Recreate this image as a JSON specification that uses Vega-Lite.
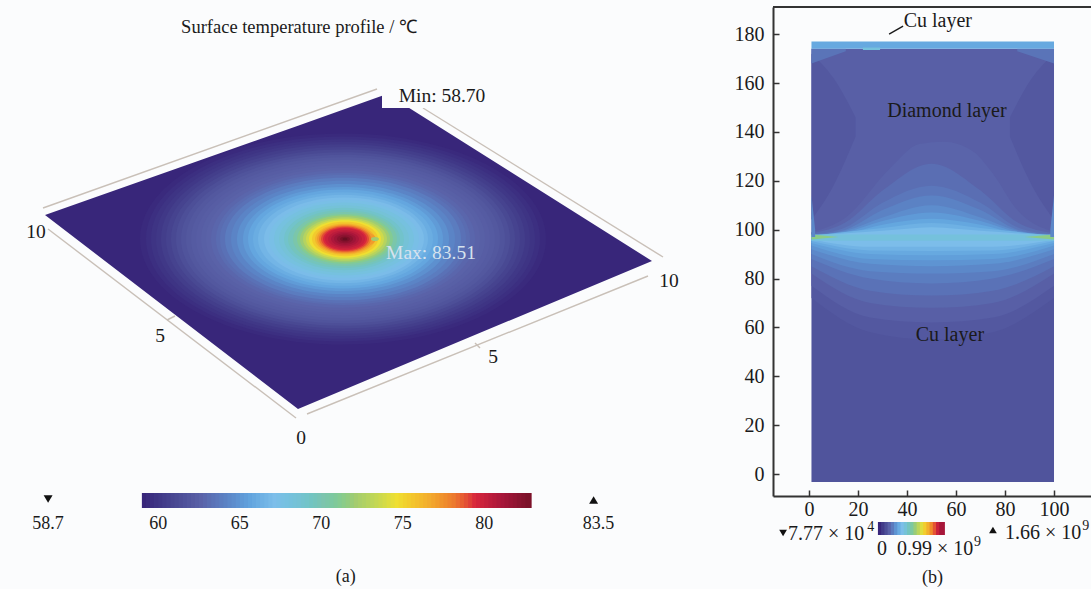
{"$schema":"https://vega.github.io/schema/vega-lite/v6.json","background":"#fbfcfd","padding":{"left":0,"top":6,"right":0,"bottom":0},"autosize":{"type":"pad"},"columns":2,"spacing":0,"bounds":"flush","resolve":{"scale":{"color":"independent","size":"independent","shape":"independent"}},"config":{"view":{"stroke":null},"text":{"font":"Liberation Serif"},"axis":{"labelFont":"Liberation Serif"}},
"datasets":{
"plane":[{"t":59,"x":45,"y":214,"y2":214},{"t":59,"x":298,"y":124.7,"y2":408},{"t":59,"x":387,"y":93,"y2":370.8},{"t":59,"x":652,"y":260,"y2":260}],
"rings":[{"t":59.2,"r":203,"x":343,"y":238},{"t":59.5,"r":197,"x":343,"y":238},{"t":59.75,"r":192,"x":343,"y":238},{"t":60,"r":187,"x":343,"y":238},{"t":60.3,"r":182,"x":343,"y":238},{"t":60.6,"r":177,"x":343,"y":238},{"t":60.95,"r":172,"x":343,"y":238},{"t":61.3,"r":167,"x":343,"y":238},{"t":61.6,"r":162,"x":343,"y":238},{"t":61.85,"r":157,"x":343,"y":238},{"t":62.05,"r":152,"x":343,"y":238},{"t":62.2,"r":147,"x":343,"y":238},{"t":62.35,"r":142,"x":343,"y":238},{"t":62.5,"r":137,"x":343,"y":238},{"t":62.7,"r":132,"x":343,"y":238},{"t":62.95,"r":127,"x":343,"y":238},{"t":63.2,"r":123,"x":343,"y":238},{"t":63.7,"r":118,"x":343,"y":238},{"t":64.1,"r":112,"x":343,"y":238},{"t":64.6,"r":106,"x":343,"y":238},{"t":65.1,"r":100,"x":343,"y":238},{"t":65.6,"r":95,"x":343,"y":238},{"t":66,"r":90,"x":343,"y":238},{"t":66.5,"r":85,"x":343,"y":238},{"t":66.9,"r":80,"x":344,"y":238},{"t":67.3,"r":75,"x":344,"y":238},{"t":67.8,"r":70,"x":344,"y":238},{"t":68.3,"r":65,"x":344,"y":238},{"t":68.9,"r":60,"x":344,"y":238},{"t":69.5,"r":56,"x":344,"y":238},{"t":70.2,"r":52,"x":345,"y":238},{"t":71,"r":48,"x":345,"y":238},{"t":71.8,"r":45,"x":345,"y":238},{"t":72.7,"r":42,"x":345,"y":238},{"t":73.6,"r":39,"x":345,"y":238},{"t":74.5,"r":36,"x":345,"y":238},{"t":75.3,"r":33,"x":345,"y":238},{"t":76.2,"r":30,"x":345,"y":238},{"t":77,"r":14,"x":362,"y":238},{"t":77,"r":28,"x":345,"y":238},{"t":78,"r":26,"x":345,"y":238},{"t":78.8,"r":24,"x":345,"y":238},{"t":79.3,"r":22,"x":345,"y":238},{"t":79.8,"r":20,"x":345,"y":238},{"t":80.3,"r":17,"x":345,"y":238},{"t":80.8,"r":14,"x":345,"y":238},{"t":81.3,"r":11,"x":345,"y":238},{"t":81.9,"r":8,"x":345,"y":238},{"t":82.6,"r":5,"x":345,"y":238},{"t":83.3,"r":2.5,"x":345,"y":238},{"t":72,"r":4,"x":375,"y":238}],
"rulers":[{"e":"a","x":43,"y":207},{"e":"a","x":377,"y":88},{"e":"b","x":423,"y":107},{"e":"b","x":663,"y":256},{"e":"c","x":48,"y":228},{"e":"c","x":296,"y":417},{"e":"d","x":307,"y":413},{"e":"d","x":648,"y":275},{"e":"e","x":167,"y":319},{"e":"e","x":175,"y":315},{"e":"f","x":475,"y":342},{"e":"f","x":480,"y":347}],
"box":[{"x":382,"x2":495,"y":84,"y2":107}],
"titleText":[{"s":"Surface temperature profile / ℃","x":299,"y":26}],
"sceneText":[{"s":"Min: 58.70","x":442,"y":95,"c":"ink"},{"s":"Max: 83.51","x":431,"y":252,"c":"pale"},{"s":"10","x":36,"y":231,"c":"ink"},{"s":"5","x":160,"y":335,"c":"ink"},{"s":"0","x":301,"y":437,"c":"ink"},{"s":"5","x":493,"y":356,"c":"ink"},{"s":"10","x":669,"y":280,"c":"ink"}],
"barA":[{"t":59,"t2":59.3},{"t":59.25,"t2":59.55},{"t":59.5,"t2":59.8},{"t":59.75,"t2":60.05},{"t":60,"t2":60.3},{"t":60.25,"t2":60.55},{"t":60.5,"t2":60.8},{"t":60.75,"t2":61.05},{"t":61,"t2":61.3},{"t":61.25,"t2":61.55},{"t":61.5,"t2":61.8},{"t":61.75,"t2":62.05},{"t":62,"t2":62.3},{"t":62.25,"t2":62.55},{"t":62.5,"t2":62.8},{"t":62.75,"t2":63.05},{"t":63,"t2":63.3},{"t":63.25,"t2":63.55},{"t":63.5,"t2":63.8},{"t":63.75,"t2":64.05},{"t":64,"t2":64.3},{"t":64.25,"t2":64.55},{"t":64.5,"t2":64.8},{"t":64.75,"t2":65.05},{"t":65,"t2":65.3},{"t":65.25,"t2":65.55},{"t":65.5,"t2":65.8},{"t":65.75,"t2":66.05},{"t":66,"t2":66.3},{"t":66.25,"t2":66.55},{"t":66.5,"t2":66.8},{"t":66.75,"t2":67.05},{"t":67,"t2":67.3},{"t":67.25,"t2":67.55},{"t":67.5,"t2":67.8},{"t":67.75,"t2":68.05},{"t":68,"t2":68.3},{"t":68.25,"t2":68.55},{"t":68.5,"t2":68.8},{"t":68.75,"t2":69.05},{"t":69,"t2":69.3},{"t":69.25,"t2":69.55},{"t":69.5,"t2":69.8},{"t":69.75,"t2":70.05},{"t":70,"t2":70.3},{"t":70.25,"t2":70.55},{"t":70.5,"t2":70.8},{"t":70.75,"t2":71.05},{"t":71,"t2":71.3},{"t":71.25,"t2":71.55},{"t":71.5,"t2":71.8},{"t":71.75,"t2":72.05},{"t":72,"t2":72.3},{"t":72.25,"t2":72.55},{"t":72.5,"t2":72.8},{"t":72.75,"t2":73.05},{"t":73,"t2":73.3},{"t":73.25,"t2":73.55},{"t":73.5,"t2":73.8},{"t":73.75,"t2":74.05},{"t":74,"t2":74.3},{"t":74.25,"t2":74.55},{"t":74.5,"t2":74.8},{"t":74.75,"t2":75.05},{"t":75,"t2":75.3},{"t":75.25,"t2":75.55},{"t":75.5,"t2":75.8},{"t":75.75,"t2":76.05},{"t":76,"t2":76.3},{"t":76.25,"t2":76.55},{"t":76.5,"t2":76.8},{"t":76.75,"t2":77.05},{"t":77,"t2":77.3},{"t":77.25,"t2":77.55},{"t":77.5,"t2":77.8},{"t":77.75,"t2":78.05},{"t":78,"t2":78.3},{"t":78.25,"t2":78.55},{"t":78.5,"t2":78.8},{"t":78.75,"t2":79.05},{"t":79,"t2":79.3},{"t":79.25,"t2":79.55},{"t":79.5,"t2":79.8},{"t":79.75,"t2":80.05},{"t":80,"t2":80.3},{"t":80.25,"t2":80.55},{"t":80.5,"t2":80.8},{"t":80.75,"t2":81.05},{"t":81,"t2":81.3},{"t":81.25,"t2":81.55},{"t":81.5,"t2":81.8},{"t":81.75,"t2":82.05},{"t":82,"t2":82.3},{"t":82.25,"t2":82.55},{"t":82.5,"t2":82.9}],
"textA":[{"s":"58.7","x":53.25,"y":523},{"s":"60","x":60,"y":523},{"s":"65","x":65,"y":523},{"s":"70","x":70,"y":523},{"s":"75","x":75,"y":523},{"s":"80","x":80,"y":523},{"s":"83.5","x":87,"y":523},{"s":"(a)","x":71.5,"y":576}],
"triA":[{"x":53.25,"y":498,"k":"min"},{"x":86.7,"y":499,"k":"max"}],
"field":[
{"id":"a00","v":0.18,"x":1,"y":-3.3,"y2":96},{"id":"a00","v":0.18,"x":100,"y":-3.3,"y2":96},
{"id":"a01","v":0.2,"x":1,"y":97,"y2":72},{"id":"a01","v":0.2,"x":25,"y":97,"y2":58},{"id":"a01","v":0.2,"x":50,"y":97,"y2":55},{"id":"a01","v":0.2,"x":75,"y":97,"y2":58},{"id":"a01","v":0.2,"x":100,"y":97,"y2":72},
{"id":"a015","v":0.23,"x":1,"y":97,"y2":77},{"id":"a015","v":0.23,"x":25,"y":97,"y2":64},{"id":"a015","v":0.23,"x":50,"y":97,"y2":62},{"id":"a015","v":0.23,"x":75,"y":97,"y2":64},{"id":"a015","v":0.23,"x":100,"y":97,"y2":77},
{"id":"a02","v":0.26,"x":1,"y":97,"y2":82},{"id":"a02","v":0.26,"x":25,"y":97,"y2":70},{"id":"a02","v":0.26,"x":50,"y":97,"y2":68},{"id":"a02","v":0.26,"x":75,"y":97,"y2":70},{"id":"a02","v":0.26,"x":100,"y":97,"y2":82},
{"id":"a025","v":0.295,"x":1,"y":97,"y2":85},{"id":"a025","v":0.295,"x":25,"y":97,"y2":75},{"id":"a025","v":0.295,"x":50,"y":97,"y2":73},{"id":"a025","v":0.295,"x":75,"y":97,"y2":75},{"id":"a025","v":0.295,"x":100,"y":97,"y2":85},
{"id":"a03","v":0.33,"x":1,"y":97,"y2":88},{"id":"a03","v":0.33,"x":25,"y":97,"y2":80},{"id":"a03","v":0.33,"x":50,"y":97,"y2":78},{"id":"a03","v":0.33,"x":75,"y":97,"y2":80},{"id":"a03","v":0.33,"x":100,"y":97,"y2":88},
{"id":"a035","v":0.365,"x":1,"y":97,"y2":90},{"id":"a035","v":0.365,"x":25,"y":97,"y2":83},{"id":"a035","v":0.365,"x":50,"y":97,"y2":82},{"id":"a035","v":0.365,"x":75,"y":97,"y2":83},{"id":"a035","v":0.365,"x":100,"y":97,"y2":90},
{"id":"a04","v":0.4,"x":1,"y":97,"y2":92},{"id":"a04","v":0.4,"x":25,"y":97,"y2":86},{"id":"a04","v":0.4,"x":50,"y":97,"y2":85},{"id":"a04","v":0.4,"x":75,"y":97,"y2":86},{"id":"a04","v":0.4,"x":100,"y":97,"y2":92},
{"id":"a045","v":0.435,"x":1,"y":97,"y2":93.5},{"id":"a045","v":0.435,"x":25,"y":97,"y2":88},{"id":"a045","v":0.435,"x":50,"y":97,"y2":87.5},{"id":"a045","v":0.435,"x":75,"y":97,"y2":88},{"id":"a045","v":0.435,"x":100,"y":97,"y2":93.5},
{"id":"a05","v":0.47,"x":1,"y":97,"y2":94.5},{"id":"a05","v":0.47,"x":25,"y":97,"y2":90},{"id":"a05","v":0.47,"x":50,"y":97,"y2":89.5},{"id":"a05","v":0.47,"x":75,"y":97,"y2":90},{"id":"a05","v":0.47,"x":100,"y":97,"y2":94.5},
{"id":"a055","v":0.51,"x":1,"y":97,"y2":95.3},{"id":"a055","v":0.51,"x":25,"y":97,"y2":91.5},{"id":"a055","v":0.51,"x":50,"y":97,"y2":91.3},{"id":"a055","v":0.51,"x":75,"y":97,"y2":91.5},{"id":"a055","v":0.51,"x":100,"y":97,"y2":95.3},
{"id":"a06","v":0.55,"x":1,"y":97,"y2":96},{"id":"a06","v":0.55,"x":25,"y":97,"y2":93},{"id":"a06","v":0.55,"x":50,"y":97,"y2":93},{"id":"a06","v":0.55,"x":75,"y":97,"y2":93},{"id":"a06","v":0.55,"x":100,"y":97,"y2":96},
{"id":"b00","v":0.23,"x":1,"y":96,"y2":174},{"id":"b00","v":0.23,"x":100,"y":96,"y2":174},
{"id":"b01","v":0.2,"x":1,"y":104,"y2":172},{"id":"b01","v":0.2,"x":10,"y":118,"y2":162},{"id":"b01","v":0.2,"x":19,"y":138,"y2":146},
{"id":"b02","v":0.2,"x":100,"y":104,"y2":172},{"id":"b02","v":0.2,"x":91,"y":118,"y2":162},{"id":"b02","v":0.2,"x":82,"y":138,"y2":146},
{"id":"b03","v":0.3,"x":1,"y":168,"y2":174},{"id":"b03","v":0.3,"x":15,"y":173,"y2":174},
{"id":"b04","v":0.3,"x":100,"y":168,"y2":174},{"id":"b04","v":0.3,"x":85,"y":173,"y2":174},
{"id":"c01","v":0.25,"x":1,"y":97,"y2":99},{"id":"c01","v":0.25,"x":15,"y":97,"y2":105},{"id":"c01","v":0.25,"x":33,"y":97,"y2":125},{"id":"c01","v":0.25,"x":45,"y":97,"y2":135},{"id":"c01","v":0.25,"x":55,"y":97,"y2":136},{"id":"c01","v":0.25,"x":67,"y":97,"y2":132},{"id":"c01","v":0.25,"x":75,"y":97,"y2":123},{"id":"c01","v":0.25,"x":85,"y":97,"y2":108},{"id":"c01","v":0.25,"x":100,"y":97,"y2":99},
{"id":"c015","v":0.28,"x":1,"y":97,"y2":98.5},{"id":"c015","v":0.28,"x":15,"y":97,"y2":103},{"id":"c015","v":0.28,"x":30,"y":97,"y2":116},{"id":"c015","v":0.28,"x":50,"y":97,"y2":127},{"id":"c015","v":0.28,"x":70,"y":97,"y2":116},{"id":"c015","v":0.28,"x":85,"y":97,"y2":103},{"id":"c015","v":0.28,"x":100,"y":97,"y2":98.5},
{"id":"c02","v":0.31,"x":1,"y":97,"y2":98},{"id":"c02","v":0.31,"x":15,"y":97,"y2":101},{"id":"c02","v":0.31,"x":30,"y":97,"y2":111},{"id":"c02","v":0.31,"x":50,"y":97,"y2":118},{"id":"c02","v":0.31,"x":70,"y":97,"y2":111},{"id":"c02","v":0.31,"x":85,"y":97,"y2":101},{"id":"c02","v":0.31,"x":100,"y":97,"y2":98},
{"id":"c025","v":0.345,"x":1,"y":97,"y2":97.7},{"id":"c025","v":0.345,"x":15,"y":97,"y2":100},{"id":"c025","v":0.345,"x":30,"y":97,"y2":108},{"id":"c025","v":0.345,"x":50,"y":97,"y2":114},{"id":"c025","v":0.345,"x":70,"y":97,"y2":108},{"id":"c025","v":0.345,"x":85,"y":97,"y2":100},{"id":"c025","v":0.345,"x":100,"y":97,"y2":97.7},
{"id":"c03","v":0.38,"x":1,"y":97,"y2":97.5},{"id":"c03","v":0.38,"x":15,"y":97,"y2":99.5},{"id":"c03","v":0.38,"x":30,"y":97,"y2":105},{"id":"c03","v":0.38,"x":50,"y":97,"y2":110},{"id":"c03","v":0.38,"x":70,"y":97,"y2":105},{"id":"c03","v":0.38,"x":85,"y":97,"y2":99.5},{"id":"c03","v":0.38,"x":100,"y":97,"y2":97.5},
{"id":"c035","v":0.42,"x":1,"y":97,"y2":97.5},{"id":"c035","v":0.42,"x":15,"y":97,"y2":99},{"id":"c035","v":0.42,"x":30,"y":97,"y2":103.5},{"id":"c035","v":0.42,"x":50,"y":97,"y2":107},{"id":"c035","v":0.42,"x":70,"y":97,"y2":103.5},{"id":"c035","v":0.42,"x":85,"y":97,"y2":99},{"id":"c035","v":0.42,"x":100,"y":97,"y2":97.5},
{"id":"c04","v":0.46,"x":1,"y":97,"y2":97.5},{"id":"c04","v":0.46,"x":15,"y":97,"y2":98.5},{"id":"c04","v":0.46,"x":30,"y":97,"y2":102},{"id":"c04","v":0.46,"x":50,"y":97,"y2":104.5},{"id":"c04","v":0.46,"x":70,"y":97,"y2":102},{"id":"c04","v":0.46,"x":85,"y":97,"y2":98.5},{"id":"c04","v":0.46,"x":100,"y":97,"y2":97.5},
{"id":"c045","v":0.5,"x":1,"y":97,"y2":97.5},{"id":"c045","v":0.5,"x":30,"y":97,"y2":100.7},{"id":"c045","v":0.5,"x":50,"y":97,"y2":102.7},{"id":"c045","v":0.5,"x":70,"y":97,"y2":100.7},{"id":"c045","v":0.5,"x":100,"y":97,"y2":97.5},
{"id":"c05","v":0.55,"x":1,"y":97,"y2":97.5},{"id":"c05","v":0.55,"x":30,"y":97,"y2":99.5},{"id":"c05","v":0.55,"x":50,"y":97,"y2":101},{"id":"c05","v":0.55,"x":70,"y":97,"y2":99.5},{"id":"c05","v":0.55,"x":100,"y":97,"y2":97.5},
{"id":"d01","v":0.62,"x":1,"y":95.5,"y2":98},{"id":"d01","v":0.62,"x":100,"y":95.5,"y2":98},
{"id":"d02","v":0.85,"x":1,"y":96,"y2":98},{"id":"d02","v":0.85,"x":12,"y":97,"y2":97},
{"id":"d03","v":0.85,"x":100,"y":96,"y2":98},{"id":"d03","v":0.85,"x":88,"y":97,"y2":97},
{"id":"d04","v":0.36,"x":1,"y":97,"y2":114},{"id":"d04","v":0.36,"x":2.5,"y":97,"y2":100},
{"id":"d05","v":0.36,"x":100,"y":97,"y2":114},{"id":"d05","v":0.36,"x":98.5,"y":97,"y2":100},
{"id":"e01","v":0.47,"x":1,"y":174,"y2":177},{"id":"e01","v":0.47,"x":100,"y":174,"y2":177},
{"id":"e02","v":0.62,"x":22,"y":173.5,"y2":174.5},{"id":"e02","v":0.62,"x":29,"y":173.5,"y2":174.5}],
"fieldText":[{"s":"Cu layer","x":52.6,"y":185.3},{"s":"Diamond layer","x":56.3,"y":148.5},{"s":"Cu layer","x":57.5,"y":56.9}],
"pointer":[{"x":32.7,"y":180},{"x":38.4,"y":183.3}],
"frameTop":[{"x":-14.7,"x2":115.1,"y":191.1}],
"barB":[{"t":0,"t2":0.1},{"t":0.08,"t2":0.18},{"t":0.16,"t2":0.26},{"t":0.24,"t2":0.34},{"t":0.32,"t2":0.42},{"t":0.4,"t2":0.5},{"t":0.48,"t2":0.58},{"t":0.56,"t2":0.66},{"t":0.64,"t2":0.74},{"t":0.72,"t2":0.82},{"t":0.8,"t2":0.9},{"t":0.88,"t2":0.98},{"t":0.96,"t2":1.06},{"t":1.04,"t2":1.14},{"t":1.12,"t2":1.22},{"t":1.2,"t2":1.3},{"t":1.28,"t2":1.38},{"t":1.36,"t2":1.46},{"t":1.44,"t2":1.54},{"t":1.52,"t2":1.66}],
"textB":[{"s":"7.77 × 10","x":-2.23,"y":533},{"s":"0","x":-0.02,"y":548},{"s":"0.99 × 10","x":0.47,"y":548},{"s":"1.66 × 10","x":3.147,"y":532}],
"labelB":[{"s":"(b)","x":1.09,"y":577}],
"supB":[{"s":"4","x":-0.18,"y":526},{"s":"9","x":2.47,"y":541},{"s":"9","x":5.15,"y":525}],
"triB":[{"x":-2.35,"y":532,"k":"min"},{"x":2.85,"y":529,"k":"max"}]
},
"concat":[
{"width":773,"height":489,"encoding":{"x":{"field":"x","type":"quantitative","scale":{"domain":[0,773]},"axis":null},"y":{"field":"y","type":"quantitative","scale":{"domain":[495,6]},"axis":null}},
"layer":[
{"data":{"name":"plane"},"mark":{"type":"area"},"encoding":{"y2":{"field":"y2"},"color":{"field":"t","type":"quantitative","legend":null,"scale":{"domain":[59,61,62.5,64,65.5,67,68.5,70,72,74.5,76.5,78,79.3,81,83],"range":["#38267a","#4a4a94","#5a62a8","#5b82c4","#62a4de","#7dbeea","#75c2d4","#7cc4ae","#a4cc6e","#efdf32","#f2ac2e","#ec7a2e","#d8273c","#a6163a","#6e0f24"]}}}},
{"data":{"name":"rings"},"mark":{"type":"point","filled":true,"opacity":1,"shape":"M-1,0A1,0.52,0,1,1,1,0A1,0.52,0,1,1,-1,0Z"},"encoding":{"size":{"field":"r","type":"quantitative","legend":null,"scale":{"type":"pow","exponent":2,"domain":[0,300],"range":[0,360000]}},"color":{"field":"t","type":"quantitative","legend":null,"scale":{"domain":[59,61,62.5,64,65.5,67,68.5,70,72,74.5,76.5,78,79.3,81,83],"range":["#38267a","#4a4a94","#5a62a8","#5b82c4","#62a4de","#7dbeea","#75c2d4","#7cc4ae","#a4cc6e","#efdf32","#f2ac2e","#ec7a2e","#d8273c","#a6163a","#6e0f24"]}}}},
{"data":{"name":"rulers"},"mark":{"type":"line","color":"#c9c0b8","strokeWidth":1.4},"encoding":{"detail":{"field":"e"},"order":{"field":"x"}}},
{"data":{"name":"box"},"mark":{"type":"rect","color":"#fbfcfd"},"encoding":{"x2":{"field":"x2"},"y2":{"field":"y2"}}},
{"data":{"name":"titleText"},"mark":{"type":"text","fontSize":18.5,"color":"#1a1a1a"},"encoding":{"text":{"field":"s"}}},
{"data":{"name":"sceneText"},"mark":{"type":"text","fontSize":19.5},"encoding":{"text":{"field":"s"},"color":{"field":"c","type":"nominal","legend":null,"scale":{"domain":["ink","pale"],"range":["#1a1a1a","#d6e2ee"]}}}}
]},
{"width":318,"height":489,"encoding":{"x":{"field":"x","type":"quantitative","scale":{"domain":[-14.7,115.1],"nice":false,"zero":false}},"y":{"field":"y","type":"quantitative","scale":{"domain":[-9,191.1],"nice":false,"zero":false}}},
"layer":[
{"data":{"name":"field"},"mark":{"type":"area","interpolate":"monotone","opacity":1},"encoding":{"x":{"field":"x","type":"quantitative","scale":{"domain":[-14.7,115.1],"nice":false,"zero":false},"axis":{"title":null,"values":[0,20,40,60,80,100],"grid":false,"orient":"bottom","tickSize":-6,"tickWidth":1.5,"tickColor":"#333","domainColor":"#333","domainWidth":2,"labelFontSize":20,"labelColor":"#1a1a1a","labelPadding":9}},"y":{"field":"y","type":"quantitative","stack":null,"scale":{"domain":[-9,191.1],"nice":false,"zero":false},"axis":{"title":null,"values":[0,20,40,60,80,100,120,140,160,180],"grid":false,"orient":"left","tickSize":-6,"tickWidth":1.5,"tickColor":"#333","domainColor":"#333","domainWidth":2,"labelFontSize":20,"labelColor":"#1a1a1a","labelPadding":15}},"y2":{"field":"y2"},"detail":{"field":"id"},"color":{"field":"v","type":"quantitative","legend":null,"scale":{"domain":[0,0.138,0.242,0.346,0.45,0.553,0.657,0.76,0.899,1.072,1.21,1.314,1.404,1.522,1.66],"range":["#38267a","#4a4a94","#5a62a8","#5b82c4","#62a4de","#7dbeea","#75c2d4","#7cc4ae","#a4cc6e","#efdf32","#f2ac2e","#ec7a2e","#d8273c","#a6163a","#6e0f24"]}}}},
{"data":{"name":"pointer"},"mark":{"type":"line","color":"#1a1a1a","strokeWidth":1.4}},
{"data":{"name":"fieldText"},"mark":{"type":"text","fontSize":20,"color":"#1a1a1a"},"encoding":{"text":{"field":"s"}}},
{"data":{"name":"frameTop"},"mark":{"type":"rule","color":"#333","strokeWidth":2},"encoding":{"x2":{"field":"x2"}}}
]},
{"width":773,"height":94,"encoding":{"y":{"field":"yy","type":"quantitative","scale":{"domain":[589,495]},"axis":null},"x":{"field":"x","type":"quantitative","scale":{"domain":[50.3,97.7],"nice":false,"zero":false},"axis":null}},
"layer":[
{"data":{"name":"barA"},"transform":[{"calculate":"507","as":"yy"},{"calculate":"492","as":"yy2"}],"mark":{"type":"rect"},"encoding":{"x":{"field":"t","type":"quantitative","scale":{"domain":[50.3,97.7],"nice":false,"zero":false},"axis":null},"x2":{"field":"t2"},"y2":{"field":"yy2"},"color":{"field":"t","type":"quantitative","legend":null,"scale":{"domain":[59,61,62.5,64,65.5,67,68.5,70,72,74.5,76.5,78,79.3,81,83],"range":["#38267a","#4a4a94","#5a62a8","#5b82c4","#62a4de","#7dbeea","#75c2d4","#7cc4ae","#a4cc6e","#efdf32","#f2ac2e","#ec7a2e","#d8273c","#a6163a","#6e0f24"]}}}},
{"data":{"name":"triA"},"mark":{"type":"point","filled":true,"opacity":1,"size":80,"color":"#111"},"encoding":{"y":{"field":"y","type":"quantitative","scale":{"domain":[589,495]},"axis":null},"shape":{"field":"k","type":"nominal","legend":null,"scale":{"domain":["min","max"],"range":["triangle-down","triangle-up"]}}}},
{"data":{"name":"textA"},"mark":{"type":"text","fontSize":18,"color":"#1a1a1a"},"encoding":{"y":{"field":"y","type":"quantitative","scale":{"domain":[589,495]},"axis":null},"text":{"field":"s"}}}
]},
{"width":318,"height":94,"encoding":{"y":{"field":"y","type":"quantitative","scale":{"domain":[589,495]},"axis":null},"x":{"field":"x","type":"quantitative","scale":{"domain":[-2.6,5.28],"nice":false,"zero":false},"axis":null}},
"layer":[
{"data":{"name":"barB"},"transform":[{"calculate":"534","as":"y"},{"calculate":"521","as":"y2"}],"mark":{"type":"rect"},"encoding":{"x":{"field":"t","type":"quantitative","scale":{"domain":[-2.6,5.28],"nice":false,"zero":false},"axis":null},"x2":{"field":"t2"},"y2":{"field":"y2"},"color":{"field":"t","type":"quantitative","legend":null,"scale":{"domain":[0,0.138,0.242,0.346,0.45,0.553,0.657,0.76,0.899,1.072,1.21,1.314,1.404,1.522,1.66],"range":["#38267a","#4a4a94","#5a62a8","#5b82c4","#62a4de","#7dbeea","#75c2d4","#7cc4ae","#a4cc6e","#efdf32","#f2ac2e","#ec7a2e","#d8273c","#a6163a","#6e0f24"]}}}},
{"data":{"name":"triB"},"mark":{"type":"point","filled":true,"opacity":1,"size":60,"color":"#111"},"encoding":{"shape":{"field":"k","type":"nominal","legend":null,"scale":{"domain":["min","max"],"range":["triangle-down","triangle-up"]}}}},
{"data":{"name":"textB"},"mark":{"type":"text","fontSize":20,"color":"#1a1a1a","align":"left"},"encoding":{"text":{"field":"s"}}},
{"data":{"name":"labelB"},"mark":{"type":"text","fontSize":18,"color":"#1a1a1a","align":"left"},"encoding":{"text":{"field":"s"}}},
{"data":{"name":"supB"},"mark":{"type":"text","fontSize":14,"color":"#1a1a1a"},"encoding":{"text":{"field":"s"}}}
]}
]}
